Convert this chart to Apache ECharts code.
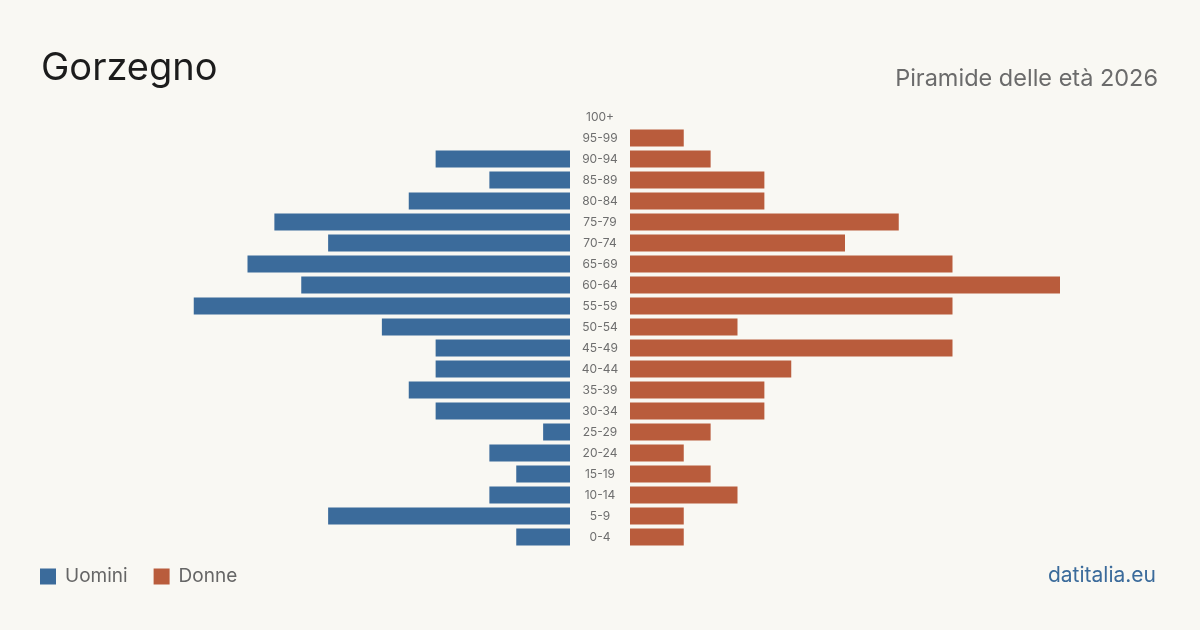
<!DOCTYPE html>
<html>
<head>
<meta charset="utf-8">
<script src="https://cdn.jsdelivr.net/npm/echarts@6/dist/echarts.min.js"></script>
<style>
  html, body { margin: 0; padding: 0; background: #f9f8f3; }
  #chart { width: 1200px; height: 630px; }
</style>
</head>
<body>
<div id="chart"></div>
<script>
// fasce d'età dal basso verso l'alto
var ageGroups = ['0-4', '5-9', '10-14', '15-19', '20-24', '25-29', '30-34', '35-39', '40-44', '45-49',
    '50-54', '55-59', '60-64', '65-69', '70-74', '75-79', '80-84', '85-89', '90-94', '95-99', '100+'];
var uomini = [2, 9, 3, 2, 3, 1, 5, 6, 5, 5, 7, 14, 10, 12, 9, 11, 6, 3, 5, 0, 0];
var donne = [2, 2, 4, 3, 2, 3, 5, 5, 6, 12, 4, 12, 16, 12, 8, 10, 5, 5, 3, 2, 0];

var blu = '#3b6b9b';
var rosso = '#b95c3c';
var font = 'Inter, "Noto Sans", sans-serif';
var maxVal = 16;

var myChart = echarts.init(document.getElementById('chart'));

option = {
    backgroundColor: '#f9f8f3',
    textStyle: {fontFamily: font},
    title: [{
        text: 'Gorzegno',
        left: 36,
        top: 45,
        textStyle: {fontSize: 38, fontWeight: 'normal', color: '#1c1c1c', fontFamily: font}
    }, {
        text: 'Piramide delle età 2026',
        right: 37,
        top: 62,
        textStyle: {fontSize: 23.5, fontWeight: 'normal', color: '#6b6b6b', fontFamily: font}
    }],
    legend: {
        left: 40,
        top: 567,
        padding: 0,
        itemWidth: 16,
        itemHeight: 16,
        itemGap: 26,
        icon: 'rect',
        textStyle: {fontSize: 19, color: '#666', fontFamily: font, padding: [0, 0, 0, 4]},
        data: ['Uomini', 'Donne']
    },
    graphic: [{
        type: 'text',
        right: 44,
        top: 565,
        style: {text: 'datitalia.eu', fontSize: 21, fill: blu, fontFamily: font}
    }],
    grid: [
        {left: 140, width: 430, top: 106.5, height: 441},
        {left: 630, width: 430, top: 106.5, height: 441}
    ],
    xAxis: [
        {gridIndex: 0, type: 'value', inverse: true, min: 0, max: maxVal, show: false},
        {gridIndex: 1, type: 'value', min: 0, max: maxVal, show: false}
    ],
    yAxis: [{
        gridIndex: 0, type: 'category', data: ageGroups,
        axisLine: {show: false}, axisTick: {show: false}, axisLabel: {show: false}
    }, {
        gridIndex: 1, type: 'category', data: ageGroups,
        axisLine: {show: false}, axisTick: {show: false},
        axisLabel: {margin: 30, align: 'center', fontSize: 12, color: '#6e6e6e', fontFamily: font}
    }],
    series: [{
        name: 'Uomini',
        type: 'bar',
        xAxisIndex: 0,
        yAxisIndex: 0,
        barCategoryGap: '19%',
        itemStyle: {color: blu},
        data: uomini
    }, {
        name: 'Donne',
        type: 'bar',
        xAxisIndex: 1,
        yAxisIndex: 1,
        barCategoryGap: '19%',
        itemStyle: {color: rosso},
        data: donne
    }]
};
myChart.setOption(option);
</script>
</body>
</html>
